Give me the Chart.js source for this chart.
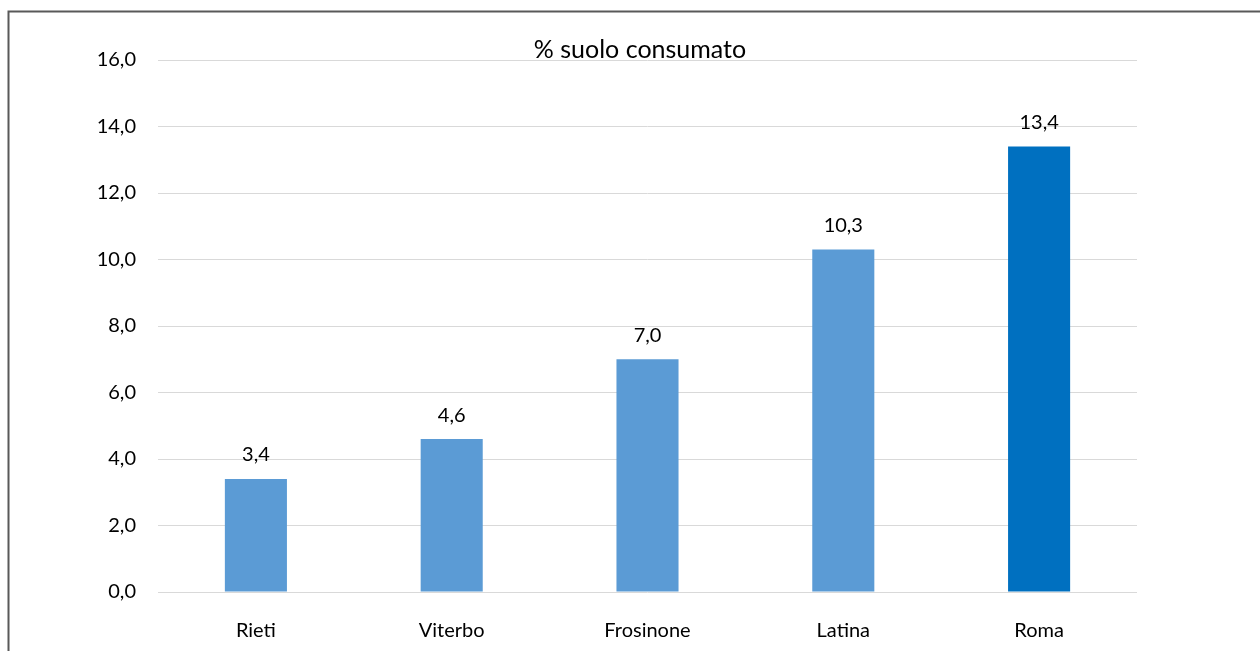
<!DOCTYPE html>
<html><head><meta charset="utf-8">
<script src="https://cdn.jsdelivr.net/npm/chart.js@4/dist/chart.umd.min.js"></script>
<style>html,body{margin:0;padding:0;background:#fff}#c{display:block}</style>
</head><body>
<canvas id="c" width="1260" height="651"></canvas>
<script>
const categories = ["Rieti", "Viterbo", "Frosinone", "Latina", "Roma"];
const values = [3.4, 4.6, 7.0, 10.3, 13.4];
const barColors = ["#5B9BD5", "#5B9BD5", "#5B9BD5", "#5B9BD5", "#0070C0"];
const chartTitle = "% suolo consumato";
const FONT = "Lato, 'Open Sans', sans-serif";
const fmt = v => v.toFixed(1).replace('.', ',');

const decor = {
  id: 'decor',
  afterDraw(chart) {
    const ctx = chart.ctx;
    ctx.save();
    ctx.strokeStyle = '#595959';
    ctx.lineWidth = 2;
    ctx.beginPath();
    ctx.moveTo(1260, 11.5);
    ctx.lineTo(8.5, 11.5);
    ctx.lineTo(8.5, 651);
    ctx.stroke();
    ctx.fillStyle = '#000';
    ctx.font = "25px " + FONT;
    ctx.textAlign = 'center';
    ctx.textBaseline = 'alphabetic';
    ctx.fillText(chartTitle, 640, 58);
    const meta = chart.getDatasetMeta(0);
    ctx.font = "20px " + FONT;
    ctx.textBaseline = 'middle';
    meta.data.forEach((bar, i) => {
      ctx.fillText(fmt(values[i]), bar.x, bar.y - 24);
    });
    ctx.restore();
  }
};

new Chart(document.getElementById('c'), {
  type: 'bar',
  data: {
    labels: categories,
    datasets: [{ data: values, backgroundColor: barColors, barPercentage: 0.317, categoryPercentage: 1 }]
  },
  options: {
    responsive: false,
    animation: false,
    layout: { padding: { left: 0, right: 123, top: 60, bottom: 0 } },
    plugins: { legend: { display: false }, tooltip: { enabled: false }, title: { display: false } },
    scales: {
      x: {
        grid: { display: false },
        border: { display: false },
        ticks: { color: '#000', font: { family: FONT, size: 20 }, padding: 19 },
        afterFit(s) { s.height = 59; }
      },
      y: {
        min: 0, max: 16,
        grid: { color: '#d9d9d9', lineWidth: 1, drawTicks: false },
        border: { display: false },
        ticks: { stepSize: 2, color: '#000', font: { family: FONT, size: 20 }, padding: 22, callback: v => fmt(v) },
        afterFit(s) { s.width = 158; }
      }
    }
  },
  plugins: [decor]
});
</script>
</body></html>
